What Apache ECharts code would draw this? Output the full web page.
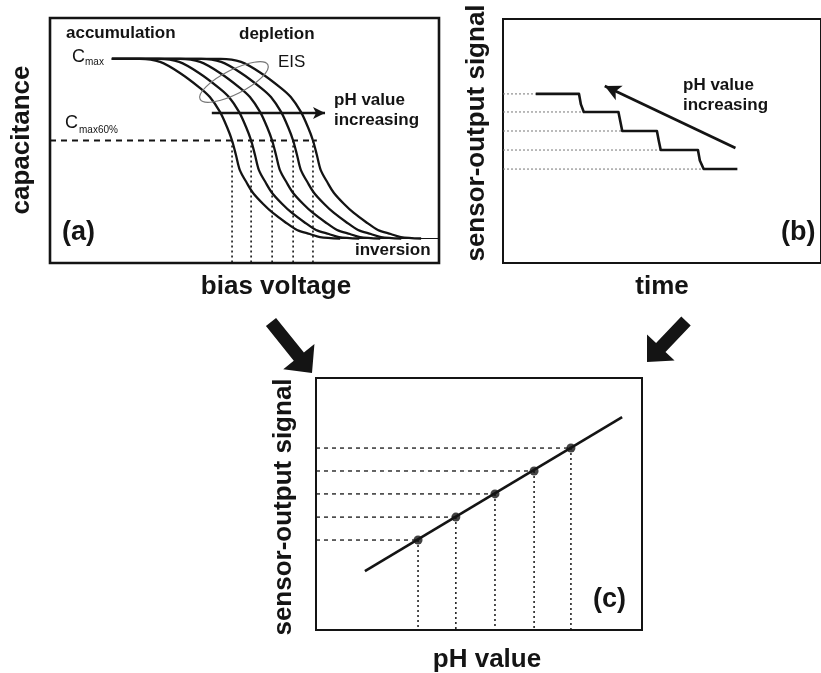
<!DOCTYPE html>
<html>
<head>
<meta charset="utf-8">
<script src="https://cdn.jsdelivr.net/npm/echarts@6/dist/echarts.min.js"></script>
<style>
  html, body { margin: 0; padding: 0; background: #fff; }
  #chart { width: 821px; height: 673px; }
</style>
</head>
<body>
<div id="chart"></div>
<script>
// ---------- (a) capacitance vs. bias voltage, normalised so that Cmax = 1 ----------
const cvCurve1 = [[1.59,1.0],[2.31,1.0],[2.83,0.985],[3.34,0.931],[3.86,0.857],[4.11,0.813],[4.37,0.74],[4.55,0.666],[4.68,0.60],[4.78,0.529],[4.88,0.455],[5.06,0.392],[5.22,0.343],[5.48,0.289],[5.73,0.245],[6.04,0.201],[6.35,0.162],[6.68,0.142],[6.94,0.127],[7.46,0.12]];
const cvCurve2 = [[1.59,1.0],[2.80,1.0],[3.32,0.985],[3.83,0.931],[4.35,0.857],[4.60,0.813],[4.86,0.74],[5.04,0.666],[5.17,0.60],[5.27,0.529],[5.37,0.455],[5.55,0.392],[5.71,0.343],[5.97,0.289],[6.22,0.245],[6.53,0.201],[6.84,0.162],[7.17,0.142],[7.43,0.127],[7.95,0.12]];
const cvCurve3 = [[1.59,1.0],[3.34,1.0],[3.86,0.985],[4.37,0.931],[4.89,0.857],[5.14,0.813],[5.40,0.74],[5.58,0.666],[5.71,0.60],[5.81,0.529],[5.91,0.455],[6.09,0.392],[6.25,0.343],[6.51,0.289],[6.76,0.245],[7.07,0.201],[7.38,0.162],[7.71,0.142],[7.97,0.127],[8.49,0.12]];
const cvCurve4 = [[1.59,1.0],[3.88,1.0],[4.40,0.985],[4.91,0.931],[5.43,0.857],[5.68,0.813],[5.94,0.74],[6.12,0.666],[6.25,0.60],[6.35,0.529],[6.45,0.455],[6.63,0.392],[6.79,0.343],[7.05,0.289],[7.30,0.245],[7.61,0.201],[7.92,0.162],[8.25,0.142],[8.51,0.127],[9.03,0.12]];
const cvCurve5 = [[1.59,1.0],[4.39,1.0],[4.91,0.985],[5.42,0.931],[5.94,0.857],[6.19,0.813],[6.45,0.74],[6.63,0.666],[6.76,0.60],[6.86,0.529],[6.96,0.455],[7.14,0.392],[7.30,0.343],[7.56,0.289],[7.81,0.245],[8.12,0.201],[8.43,0.162],[8.76,0.142],[9.02,0.127],[9.54,0.12]];
const cvCurves = [cvCurve1, cvCurve2, cvCurve3, cvCurve4, cvCurve5];
const cMax60 = 0.6;                                   // working point, 60 % of Cmax
const cInversion = 0.12;                              // inversion plateau
const inversionSpan = [7.46, 10];                     // plateau continues to the frame
const workingVoltages = [4.68, 5.17, 5.71, 6.25, 6.76]; // bias at 0.6 Cmax for each curve
const cvArrow = [[4.16, 0.735], [7.07, 0.735]];       // "pH value increasing"

// ---------- (b) sensor output over time ----------
const signalTrace = [[1.03,6.93],[2.39,6.93],[2.45,6.5],[2.54,6.19],[3.63,6.19],[3.69,5.8],[3.75,5.41],[4.84,5.41],[4.90,5.0],[4.96,4.63],[6.13,4.63],[6.19,4.2],[6.31,3.85],[7.37,3.85]];
const signalLevels = [6.93, 6.19, 5.41, 4.63, 3.85];
const levelEndTimes = [1.03, 2.54, 3.75, 4.96, 6.31];
const timeArrow = [[7.31, 4.71], [3.20, 7.25]];

// ---------- (c) calibration: sensor output vs. pH ----------
const phValues = [3.13, 4.29, 5.49, 6.69, 7.82];
const outputValues = [3.57, 4.48, 5.40, 6.31, 7.22];
const calibrationLine = [[1.50, 2.34], [9.39, 8.45]];

// ---------- drawing ----------
const INK = '#141414';
const FONT = '"Liberation Sans", Arial, Helvetica, sans-serif';

const chart = echarts.init(document.getElementById('chart'), null, { renderer: 'canvas' });

function hiddenAxis(gridIndex, max) {
  return { type: 'value', gridIndex, min: 0, max, show: false };
}

function guide(idx, p0, p1, width, dash, color) {
  return {
    type: 'line', xAxisIndex: idx, yAxisIndex: idx, data: [p0, p1],
    symbol: 'none', silent: true, z: 1,
    lineStyle: { color: color || INK, width, type: dash }
  };
}

function arrowSeries(idx, from, to, width, size) {
  return {
    type: 'line', xAxisIndex: idx, yAxisIndex: idx, data: [], silent: true,
    markLine: {
      silent: true, animation: false,
      symbol: ['none', 'arrow'], symbolSize: size,
      label: { show: false },
      lineStyle: { color: INK, width, type: 'solid' },
      emphasis: { disabled: true },
      data: [[{ coord: from }, { coord: to }]]
    }
  };
}

const series = [];

// (a)
cvCurves.forEach(c => series.push({
  type: 'line', xAxisIndex: 0, yAxisIndex: 0, data: c, symbol: 'none',
  smooth: 0.3, silent: true, z: 3, lineStyle: { color: INK, width: 2.3 }
}));
series.push(guide(0, [inversionSpan[0], cInversion], [inversionSpan[1], cInversion], 1.2, 'solid'));
series.push(guide(0, [0, cMax60], [6.86, cMax60], 1.8, [6, 5]));
workingVoltages.forEach(v => series.push(guide(0, [v, cMax60], [v, 0], 1.6, [2, 3])));
series.push(arrowSeries(0, cvArrow[0], cvArrow[1], 2.4, [9, 12]));

// (b)
series.push({
  type: 'line', xAxisIndex: 1, yAxisIndex: 1, data: signalTrace, symbol: 'none',
  silent: true, z: 3, lineStyle: { color: INK, width: 2.6, join: 'round' }
});
signalLevels.forEach((s, i) => series.push(guide(1, [0, s], [levelEndTimes[i], s], 1, [2, 2], '#777')));
series.push(arrowSeries(1, timeArrow[0], timeArrow[1], 2.8, [12, 16]));

// (c)
series.push({
  type: 'line', xAxisIndex: 2, yAxisIndex: 2, data: calibrationLine, symbol: 'none',
  silent: true, z: 3, lineStyle: { color: INK, width: 2.6 }
});
series.push({
  type: 'scatter', xAxisIndex: 2, yAxisIndex: 2, silent: true, z: 4,
  data: phValues.map((p, i) => [p, outputValues[i]]),
  symbol: 'circle', symbolSize: 9, itemStyle: { color: INK }
});
phValues.forEach((p, i) => {
  series.push(guide(2, [0, outputValues[i]], [p, outputValues[i]], 1.3, [4, 4]));
  series.push(guide(2, [p, outputValues[i]], [p, 0], 1.5, [2, 3]));
});

// text annotations
function text(str, x, y, font, opts) {
  opts = opts || {};
  return {
    type: 'text', x, y, rotation: opts.rotation || 0, silent: true, z: 10,
    style: { text: str, font, fill: INK, align: opts.align || 'left', verticalAlign: 'middle' }
  };
}
const TITLE = 'bold 26px ' + FONT;
const NOTE = 'bold 17px ' + FONT;
const PANEL = 'bold 27px ' + FONT;

// thick block arrows linking the panels
function blockArrow(tail, tip, shaftW, headW, headL) {
  const dx = tip[0] - tail[0], dy = tip[1] - tail[1];
  const len = Math.hypot(dx, dy);
  const ux = dx / len, uy = dy / len, nx = -uy, ny = ux;
  const bx = tip[0] - ux * headL, by = tip[1] - uy * headL;
  const p = (x, y, k) => [x + nx * k, y + ny * k];
  return {
    type: 'polygon', silent: true, z: 10,
    shape: { points: [
      p(tail[0], tail[1], shaftW / 2), p(bx, by, shaftW / 2), p(bx, by, headW / 2), tip,
      p(bx, by, -headW / 2), p(bx, by, -shaftW / 2), p(tail[0], tail[1], -shaftW / 2)
    ] },
    style: { fill: INK }
  };
}

const graphic = [
  // (a)
  text('accumulation', 66, 33, NOTE),
  text('depletion', 239, 34, NOTE),
  text('C', 72, 57, '18px ' + FONT),
  text('max', 85, 62, '10px ' + FONT),
  text('EIS', 278, 62, '17px ' + FONT),
  text('pH value', 334, 100, NOTE),
  text('increasing', 334, 120, NOTE),
  text('C', 65, 123, '18px ' + FONT),
  text('max60%', 79, 130, '10px ' + FONT),
  text('(a)', 62, 233, PANEL),
  text('inversion', 355, 250, NOTE),
  text('capacitance', 22, 140, TITLE, { align: 'center', rotation: Math.PI / 2 }),
  text('bias voltage', 276, 287, TITLE, { align: 'center' }),
  {
    type: 'ellipse', x: 234, y: 82, rotation: 0.47, silent: true, z: 9,
    shape: { cx: 0, cy: 0, rx: 38, ry: 12 },
    style: { fill: 'none', stroke: '#777', lineWidth: 1.2 }
  },
  // (b)
  text('sensor-output signal', 477, 133, TITLE, { align: 'center', rotation: Math.PI / 2 }),
  text('time', 662, 287, TITLE, { align: 'center' }),
  text('pH value', 683, 85, NOTE),
  text('increasing', 683, 105, NOTE),
  text('(b)', 781, 233, PANEL),
  // (c)
  text('sensor-output signal', 284, 507, TITLE, { align: 'center', rotation: Math.PI / 2 }),
  text('pH value', 487, 660, TITLE, { align: 'center' }),
  text('(c)', 593, 600, PANEL),
  // panel links
  blockArrow([271, 322], [312, 373], 13, 40, 21),
  blockArrow([686, 321], [647, 362], 13, 38, 20)
];

chart.setOption({
  animation: false,
  backgroundColor: '#fff',
  grid: [
    { left: 50, top: 18, width: 389, height: 245, show: true, borderColor: INK, borderWidth: 2.6, backgroundColor: 'transparent' },
    { left: 503, top: 19, width: 331, height: 244, show: true, borderColor: INK, borderWidth: 2, backgroundColor: 'transparent' },
    { left: 316, top: 378, width: 326, height: 252, show: true, borderColor: INK, borderWidth: 2, backgroundColor: 'transparent' }
  ],
  xAxis: [hiddenAxis(0, 10), hiddenAxis(1, 10), hiddenAxis(2, 10)],
  yAxis: [hiddenAxis(0, 1.2), hiddenAxis(1, 10), hiddenAxis(2, 10)],
  series,
  graphic
});
</script>
</body>
</html>
